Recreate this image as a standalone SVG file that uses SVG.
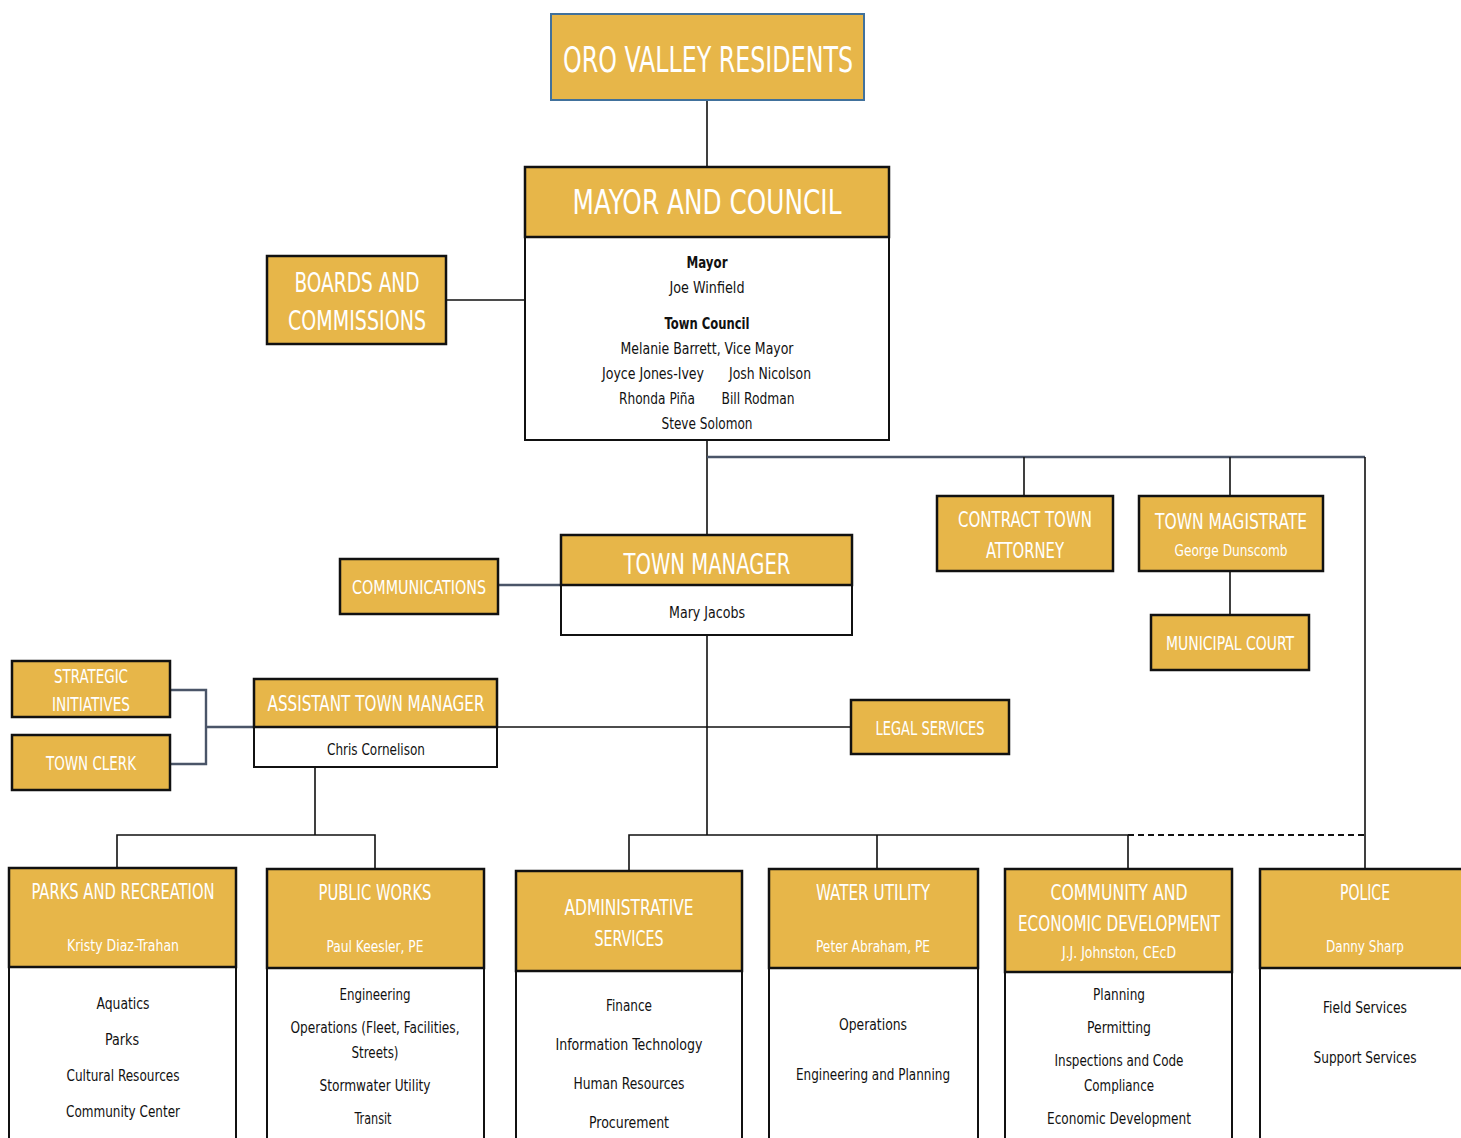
<svg xmlns="http://www.w3.org/2000/svg" width="1461" height="1138" viewBox="0 0 1461 1138">
<style>
text{font-family:"DejaVu Sans Condensed","Liberation Sans",sans-serif;text-anchor:middle;font-stretch:condensed}
.g{fill:#E7B649;stroke:#111;stroke-width:2.5}
.w{fill:#fff;stroke:#111;stroke-width:2}
.h{fill:#fff}
.b{fill:#111}
.bd{fill:#111;font-weight:bold}
.c{fill:none;stroke:#111;stroke-width:1.6}
.s{fill:none;stroke:#4a5568;stroke-width:2.4}
</style>
<rect width="1461" height="1138" fill="#fff"/>
<g id="connectors">
<path class="c" d="M707,100V167M446,300H525M707,440V535M707,635V835"/>
<path class="s" d="M707,457H1365"/>
<path class="c" d="M1024,457V496M1230,457V496M1365,457V868M1230,571V615"/>
<path class="s" d="M498,585H561"/>
<path class="c" d="M207,727H851"/>
<path class="s" d="M171,690H206V764H171M206,727H254"/>
<path class="c" d="M315,767V835M117,868V835H375V869"/>
<path class="c" d="M629,871V835H1128M877,835V868M1128,835V868"/>
<path class="c" d="M1128,835H1365" stroke-dasharray="6,4" style="stroke-width:2.2"/>
</g>
<g id="residents">
<rect x="551" y="14" width="313" height="86" fill="#E7B649" stroke="#41719C" stroke-width="2"/>
<text class="h" x="708" y="72" font-size="36" textLength="290" lengthAdjust="spacingAndGlyphs">ORO VALLEY RESIDENTS</text>
</g>
<g id="mayor-council">
<rect class="w" x="525" y="237" width="364" height="203"/>
<rect class="g" x="525" y="167" width="364" height="70"/>
<text class="h" x="707" y="214" font-size="34" textLength="269" lengthAdjust="spacingAndGlyphs">MAYOR AND COUNCIL</text>
<text class="bd" x="707" y="268" font-size="16" textLength="41" lengthAdjust="spacingAndGlyphs">Mayor</text>
<text class="b" x="707" y="293" font-size="16" textLength="75" lengthAdjust="spacingAndGlyphs">Joe Winfield</text>
<text class="bd" x="707" y="329" font-size="16" textLength="85" lengthAdjust="spacingAndGlyphs">Town Council</text>
<text class="b" x="707" y="354" font-size="16" textLength="173" lengthAdjust="spacingAndGlyphs">Melanie Barrett, Vice Mayor</text>
<text class="b" x="653" y="379" font-size="16" textLength="102" lengthAdjust="spacingAndGlyphs">Joyce Jones-Ivey</text>
<text class="b" x="770" y="379" font-size="16" textLength="82" lengthAdjust="spacingAndGlyphs">Josh Nicolson</text>
<text class="b" x="657" y="404" font-size="16" textLength="76" lengthAdjust="spacingAndGlyphs">Rhonda Piña</text>
<text class="b" x="758" y="404" font-size="16" textLength="73" lengthAdjust="spacingAndGlyphs">Bill Rodman</text>
<text class="b" x="707" y="429" font-size="16" textLength="91" lengthAdjust="spacingAndGlyphs">Steve Solomon</text>
</g>
<g id="boards">
<rect class="g" x="267" y="256" width="179" height="88"/>
<text class="h" x="357" y="292" font-size="26" textLength="125" lengthAdjust="spacingAndGlyphs">BOARDS AND</text>
<text class="h" x="357" y="330" font-size="26" textLength="138" lengthAdjust="spacingAndGlyphs">COMMISSIONS</text>
</g>
<g id="contract-attorney">
<rect class="g" x="937" y="496" width="176" height="75"/>
<text class="h" x="1025" y="527" font-size="22" textLength="134" lengthAdjust="spacingAndGlyphs">CONTRACT TOWN</text>
<text class="h" x="1025" y="558" font-size="22" textLength="78" lengthAdjust="spacingAndGlyphs">ATTORNEY</text>
</g>
<g id="town-magistrate">
<rect class="g" x="1139" y="496" width="184" height="75"/>
<text class="h" x="1231" y="529" font-size="22" textLength="152" lengthAdjust="spacingAndGlyphs">TOWN MAGISTRATE</text>
<text class="h" x="1231" y="556" font-size="16" textLength="113" lengthAdjust="spacingAndGlyphs">George Dunscomb</text>
</g>
<g id="municipal-court">
<rect class="g" x="1151" y="615" width="158" height="55"/>
<text class="h" x="1230" y="650" font-size="19" textLength="128" lengthAdjust="spacingAndGlyphs">MUNICIPAL COURT</text>
</g>
<g id="town-manager">
<rect class="w" x="561" y="585" width="291" height="50"/>
<rect class="g" x="561" y="535" width="291" height="50"/>
<text class="h" x="707" y="574" font-size="28" textLength="167" lengthAdjust="spacingAndGlyphs">TOWN MANAGER</text>
<text class="b" x="707" y="618" font-size="16" textLength="76" lengthAdjust="spacingAndGlyphs">Mary Jacobs</text>
</g>
<g id="communications">
<rect class="g" x="340" y="559" width="158" height="55"/>
<text class="h" x="419" y="594" font-size="19" textLength="134" lengthAdjust="spacingAndGlyphs">COMMUNICATIONS</text>
</g>
<g id="assistant-town-manager">
<rect class="w" x="254" y="727" width="243" height="40"/>
<rect class="g" x="254" y="679" width="243" height="48"/>
<text class="h" x="376" y="711" font-size="22" textLength="217" lengthAdjust="spacingAndGlyphs">ASSISTANT TOWN MANAGER</text>
<text class="b" x="376" y="755" font-size="16" textLength="98" lengthAdjust="spacingAndGlyphs">Chris Cornelison</text>
</g>
<g id="strategic-initiatives">
<rect class="g" x="12" y="661" width="158" height="56"/>
<text class="h" x="91" y="683" font-size="19" textLength="74" lengthAdjust="spacingAndGlyphs">STRATEGIC</text>
<text class="h" x="91" y="711" font-size="19" textLength="78" lengthAdjust="spacingAndGlyphs">INITIATIVES</text>
</g>
<g id="town-clerk">
<rect class="g" x="12" y="735" width="158" height="55"/>
<text class="h" x="91" y="770" font-size="19" textLength="90" lengthAdjust="spacingAndGlyphs">TOWN CLERK</text>
</g>
<g id="legal-services">
<rect class="g" x="851" y="700" width="158" height="54"/>
<text class="h" x="930" y="735" font-size="19" textLength="109" lengthAdjust="spacingAndGlyphs">LEGAL SERVICES</text>
</g>
<g id="parks">
<rect class="w" x="9" y="967" width="227" height="180"/>
<rect class="g" x="9" y="868" width="227" height="99"/>
<text class="h" x="123" y="899" font-size="22" textLength="183" lengthAdjust="spacingAndGlyphs">PARKS AND RECREATION</text>
<text class="h" x="123" y="951" font-size="16" textLength="112" lengthAdjust="spacingAndGlyphs">Kristy Diaz-Trahan</text>
<text class="b" x="123" y="1009" font-size="16" textLength="53" lengthAdjust="spacingAndGlyphs">Aquatics</text>
<text class="b" x="122" y="1045" font-size="16" textLength="34" lengthAdjust="spacingAndGlyphs">Parks</text>
<text class="b" x="123" y="1081" font-size="16" textLength="113" lengthAdjust="spacingAndGlyphs">Cultural Resources</text>
<text class="b" x="123" y="1117" font-size="16" textLength="114" lengthAdjust="spacingAndGlyphs">Community Center</text>
</g>
<g id="public-works">
<rect class="w" x="267" y="968" width="217" height="180"/>
<rect class="g" x="267" y="869" width="217" height="99"/>
<text class="h" x="375" y="900" font-size="22" textLength="113" lengthAdjust="spacingAndGlyphs">PUBLIC WORKS</text>
<text class="h" x="375" y="952" font-size="16" textLength="97" lengthAdjust="spacingAndGlyphs">Paul Keesler, PE</text>
<text class="b" x="375" y="1000" font-size="16" textLength="71" lengthAdjust="spacingAndGlyphs">Engineering</text>
<text class="b" x="375" y="1033" font-size="16" textLength="169" lengthAdjust="spacingAndGlyphs">Operations (Fleet, Facilities,</text>
<text class="b" x="375" y="1058" font-size="16" textLength="47" lengthAdjust="spacingAndGlyphs">Streets)</text>
<text class="b" x="375" y="1091" font-size="16" textLength="111" lengthAdjust="spacingAndGlyphs">Stormwater Utility</text>
<text class="b" x="373" y="1124" font-size="16" textLength="37" lengthAdjust="spacingAndGlyphs">Transit</text>
</g>
<g id="administrative-services">
<rect class="w" x="516" y="971" width="226" height="180"/>
<rect class="g" x="516" y="871" width="226" height="100"/>
<text class="h" x="629" y="915" font-size="22" textLength="129" lengthAdjust="spacingAndGlyphs">ADMINISTRATIVE</text>
<text class="h" x="629" y="946" font-size="22" textLength="69" lengthAdjust="spacingAndGlyphs">SERVICES</text>
<text class="b" x="629" y="1011" font-size="16" textLength="46" lengthAdjust="spacingAndGlyphs">Finance</text>
<text class="b" x="629" y="1050" font-size="16" textLength="147" lengthAdjust="spacingAndGlyphs">Information Technology</text>
<text class="b" x="629" y="1089" font-size="16" textLength="111" lengthAdjust="spacingAndGlyphs">Human Resources</text>
<text class="b" x="629" y="1128" font-size="16" textLength="80" lengthAdjust="spacingAndGlyphs">Procurement</text>
</g>
<g id="water-utility">
<rect class="w" x="769" y="968" width="209" height="180"/>
<rect class="g" x="769" y="869" width="209" height="99"/>
<text class="h" x="873" y="900" font-size="22" textLength="114" lengthAdjust="spacingAndGlyphs">WATER UTILITY</text>
<text class="h" x="873" y="952" font-size="16" textLength="114" lengthAdjust="spacingAndGlyphs">Peter Abraham, PE</text>
<text class="b" x="873" y="1030" font-size="16" textLength="68" lengthAdjust="spacingAndGlyphs">Operations</text>
<text class="b" x="873" y="1080" font-size="16" textLength="154" lengthAdjust="spacingAndGlyphs">Engineering and Planning</text>
</g>
<g id="community-economic-development">
<rect class="w" x="1005" y="972" width="227" height="180"/>
<rect class="g" x="1005" y="869" width="227" height="103"/>
<text class="h" x="1119" y="900" font-size="22" textLength="137" lengthAdjust="spacingAndGlyphs">COMMUNITY AND</text>
<text class="h" x="1119" y="931" font-size="22" textLength="202" lengthAdjust="spacingAndGlyphs">ECONOMIC DEVELOPMENT</text>
<text class="h" x="1119" y="958" font-size="16" textLength="114" lengthAdjust="spacingAndGlyphs">J.J. Johnston, CEcD</text>
<text class="b" x="1119" y="1000" font-size="16" textLength="52" lengthAdjust="spacingAndGlyphs">Planning</text>
<text class="b" x="1119" y="1033" font-size="16" textLength="64" lengthAdjust="spacingAndGlyphs">Permitting</text>
<text class="b" x="1119" y="1066" font-size="16" textLength="129" lengthAdjust="spacingAndGlyphs">Inspections and Code</text>
<text class="b" x="1119" y="1091" font-size="16" textLength="70" lengthAdjust="spacingAndGlyphs">Compliance</text>
<text class="b" x="1119" y="1124" font-size="16" textLength="144" lengthAdjust="spacingAndGlyphs">Economic Development</text>
</g>
<g id="police">
<rect class="w" x="1260" y="968" width="220" height="180"/>
<rect class="g" x="1260" y="869" width="220" height="99"/>
<text class="h" x="1365" y="900" font-size="22" textLength="50" lengthAdjust="spacingAndGlyphs">POLICE</text>
<text class="h" x="1365" y="952" font-size="16" textLength="78" lengthAdjust="spacingAndGlyphs">Danny Sharp</text>
<text class="b" x="1365" y="1013" font-size="16" textLength="84" lengthAdjust="spacingAndGlyphs">Field Services</text>
<text class="b" x="1365" y="1063" font-size="16" textLength="103" lengthAdjust="spacingAndGlyphs">Support Services</text>
</g>
</svg>
